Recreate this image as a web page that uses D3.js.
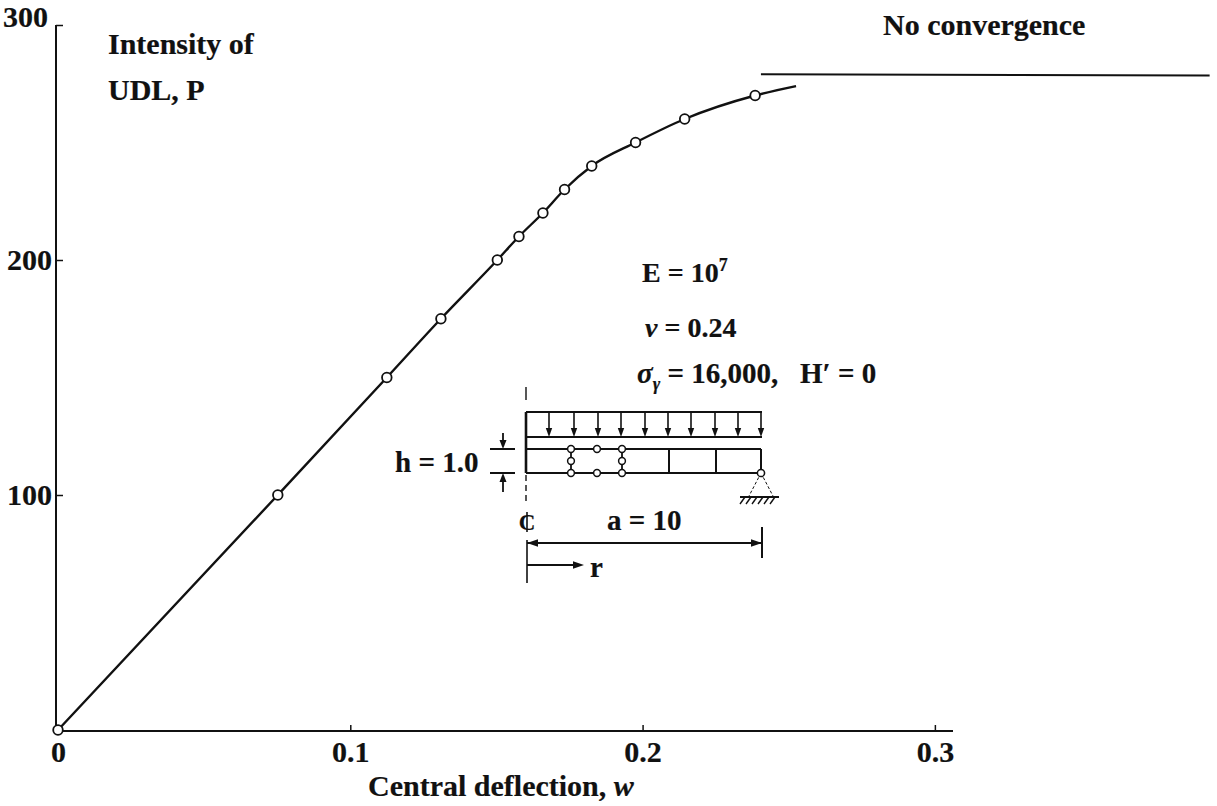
<!DOCTYPE html>
<meta charset="utf-8">
<html lang="en">
<head>
<style>
  body { margin: 0; background: #fff; }
  text { font-family: "Liberation Serif", "Times New Roman", "DejaVu Serif", serif; fill: #111; font-weight: 700; }
  .heavy { stroke: #111; stroke-width: 0.2; }
  .domain { stroke: #111; stroke-width: 2; }
  .tick line { stroke: #111; stroke-width: 1.5; }
</style>
</head>
<body>
<div id="chart"></div>
<script src="https://d3js.org/d3.v7.min.js"></script>
<script>
// values
var deflection = [0, 0.0752, 0.1125, 0.131, 0.1503, 0.1577, 0.1659, 0.1733, 0.1826, 0.1976, 0.2144, 0.2385];
var intensity  = [0, 100, 150, 175, 200, 210, 220, 230, 240, 250, 260, 270];
// where the drawn curve stops past the last point
var tailDeflection = [0.2525];
var tailIntensity  = [274];
// "No convergence" level
var limitDeflection = [0.2405, 0.394];
var limitIntensity  = [279, 278.5];

var xTicks = [0, 0.1, 0.2, 0.3];
var xTickLabels = ["0", "0.1", "0.2", "0.3"];
var yTicks = [100, 200, 300];
var yTickLabels = ["100", "200", "300"];

var width = 1217, height = 806;

var svg = d3.select("#chart")
  .append("svg")
    .attr("width", width)
    .attr("height", height);

var x = d3.scaleLinear().domain([0, 0.3062]).range([58, 953]);
var y = d3.scaleLinear().domain([0, 300]).range([730, 25]);

// X axis, ticks pointing up
var xAxis = svg.append("g")
  .attr("transform", "translate(0,731)")
  .call(d3.axisBottom(x)
    .tickValues(xTicks)
    .tickFormat(function (d, i) { return xTickLabels[i]; })
    .tickSizeInner(-6)
    .tickSizeOuter(0)
    .tickPadding(10));
xAxis.attr("font-family", null).attr("font-size", null);
xAxis.select(".domain").attr("d", "M" + (x(0) - 3) + ",0H" + x.range()[1]);
xAxis.selectAll("text")
  .attr("class", "heavy")
  .style("font-size", "30px");
xAxis.selectAll(".tick").filter(function (d) { return d === 0; }).select("line").remove();

// Y axis, ticks pointing right
var yAxis = svg.append("g")
  .attr("transform", "translate(" + (x(0) - 2) + ",0)")
  .call(d3.axisLeft(y)
    .tickValues(yTicks)
    .tickFormat(function (d, i) { return yTickLabels[i]; })
    .tickSizeInner(-7)
    .tickSizeOuter(0)
    .tickPadding(4));
yAxis.attr("font-family", null).attr("font-size", null);
yAxis.select(".domain").attr("d", "M0," + (y(0) + 1) + "V" + y(300));
yAxis.selectAll("text")
  .attr("class", "heavy")
  .style("font-size", "30px");
yAxis.selectAll(".tick").filter(function (d) { return d === 300; }).select("text")
  .attr("dy", "0.05em").attr("x", -8);

// curve through the points
var pts = deflection.map(function (d, i) { return [d, intensity[i]]; });
var curvePts = pts.concat(tailDeflection.map(function (d, i) { return [d, tailIntensity[i]]; }));

var line = d3.line()
  .x(function (d) { return x(d[0]); })
  .y(function (d) { return y(d[1]); })
  .curve(d3.curveMonotoneX);

svg.append("path")
  .datum(curvePts)
  .attr("d", line)
  .attr("fill", "none")
  .attr("stroke", "#111")
  .attr("stroke-width", 2.4);

svg.append("g")
  .selectAll("circle")
  .data(pts)
  .enter()
  .append("circle")
    .attr("cx", function (d) { return x(d[0]); })
    .attr("cy", function (d) { return y(d[1]); })
    .attr("r", 4.8)
    .attr("fill", "#fff")
    .attr("stroke", "#111")
    .attr("stroke-width", 1.8);

// no convergence level
svg.append("path")
  .datum(limitDeflection.map(function (d, i) { return [d, limitIntensity[i]]; }))
  .attr("d", d3.line().x(function (d) { return x(d[0]); }).y(function (d) { return y(d[1]); }))
  .attr("fill", "none")
  .attr("stroke", "#111")
  .attr("stroke-width", 2);

// labels
function label(txt, px, py, size) {
  return svg.append("text")
    .attr("class", "heavy")
    .attr("x", px)
    .attr("y", py)
    .style("font-size", (size || 30) + "px")
    .text(txt);
}
label("Intensity of", 108, 54);
label("UDL, P", 108, 100);
label("No convergence", 883, 35);

var xl = label("Central deflection, ", 368, 796);
xl.append("tspan").style("font-style", "italic").text("w");

var e = label("E = 10", 642, 282, 28);
e.append("tspan").attr("dy", -11).style("font-size", "18px").text("7");

var nu = label("", 645, 337, 28);
nu.append("tspan").style("font-style", "italic").text("ν");
nu.append("tspan").text(" = 0.24");

var sg = label("", 637, 383, 29);
sg.append("tspan").style("font-style", "italic").text("σ");
sg.append("tspan").attr("dy", 7).style("font-size", "18px").style("font-style", "italic").text("γ");
sg.append("tspan").attr("dy", -7).text(" = 16,000,\u00a0\u00a0 H\u2032 = 0");

// inset: plate sketch
var ins = svg.append("g").attr("transform", "translate(526,412)");
var ink = "#111";

function seg(x1, y1, x2, y2, w, dash) {
  ins.append("line")
    .attr("x1", x1).attr("y1", y1).attr("x2", x2).attr("y2", y2)
    .attr("stroke", ink).attr("stroke-width", w || 1.6)
    .attr("stroke-dasharray", dash || null);
}
function head(px, py, dir, len, half) {
  len = len || 8; half = half || 3;
  var p;
  if (dir === "down") p = [[px, py], [px - half, py - len], [px + half, py - len]];
  if (dir === "up") p = [[px, py], [px - half, py + len], [px + half, py + len]];
  if (dir === "left") p = [[px, py], [px + len, py - half], [px + len, py + half]];
  if (dir === "right") p = [[px, py], [px - len, py - half], [px - len, py + half]];
  ins.append("path").attr("d", "M" + p.join("L") + "Z").attr("fill", ink);
}

// centre line
seg(0, -25, 0, -12, 1.4);
seg(0, 0, 0, 61, 2.6);
seg(0, 63, 0, 90, 1.4, "6,4");
seg(1, 128, 1, 171, 1.6);

// load
seg(0, 0, 236, 0, 2.2);
seg(0, 25, 236, 25, 2.2);
[23, 48, 72, 95, 119, 142, 165, 189, 212, 235].forEach(function (ax) {
  seg(ax, 0, ax, 18, 1.6);
  head(ax, 25, "down", 9, 3.2);
});

// plate and elements
seg(0, 37, 235, 37, 2);
seg(0, 61, 235, 61, 2);
seg(235, 37, 235, 61, 2);
seg(143, 37, 143, 61, 2);
seg(190, 37, 190, 61, 2);
seg(45, 37, 45, 61, 1.8);
seg(96, 37, 96, 61, 1.8);
[[45, 37], [71, 37], [96, 37], [45, 49], [96, 49], [45, 61], [71, 61], [96, 61]].forEach(function (n) {
  ins.append("circle").attr("cx", n[0]).attr("cy", n[1]).attr("r", 3.4)
    .attr("fill", "#fff").attr("stroke", ink).attr("stroke-width", 1.5);
});

// simple support
seg(235, 61, 223, 84, 1, "3,2");
seg(235, 61, 247, 84, 1, "3,2");
ins.append("circle").attr("cx", 235).attr("cy", 61).attr("r", 3.6)
  .attr("fill", "#fff").attr("stroke", ink).attr("stroke-width", 1.5);
seg(214, 85, 253, 85, 2);
d3.range(219, 254, 6).forEach(function (hx) { seg(hx, 85, hx - 5, 92, 1.4); });

// thickness dimension
seg(-36, 37, -11, 37, 2);
seg(-36, 61, -11, 61, 2);
seg(-23, 21, -23, 30, 1.8);
head(-23, 37, "down", 9, 3.5);
seg(-23, 70, -23, 80, 1.8);
head(-23, 61, "up", 9, 3.5);
ins.append("text").attr("class", "heavy").attr("x", -131).attr("y", 60)
  .style("font-size", "29px").text("h = 1.0");

// centre line mark
ins.append("text").attr("class", "heavy").attr("x", 1).attr("y", 118)
  .attr("text-anchor", "middle").style("font-size", "23px").text("C");
seg(1, 100, 1, 120, 1.6);

// radius dimension
ins.append("text").attr("class", "heavy").attr("x", 81).attr("y", 118)
  .style("font-size", "29px").text("a = 10");
seg(1, 131, 236, 131, 2);
head(1, 131, "left", 11, 3.8);
head(236, 131, "right", 11, 3.8);
seg(236, 115, 236, 146, 2);

seg(1, 153, 50, 153, 2);
head(58, 153, "right", 11, 3.8);
ins.append("text").attr("class", "heavy").attr("x", 64).attr("y", 165)
  .style("font-size", "29px").text("r");
</script>
</body>
</html>
